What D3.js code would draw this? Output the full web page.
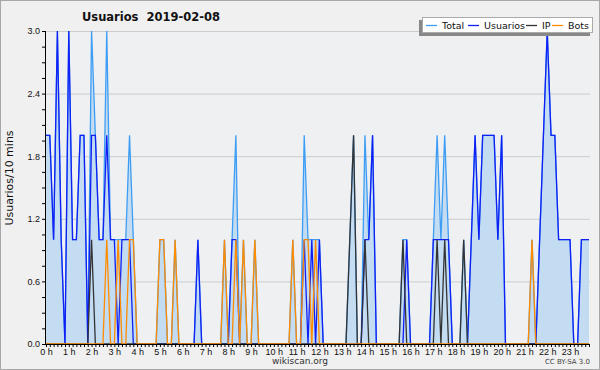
<!DOCTYPE html>
<html>
<head>
<meta charset="utf-8">
<script src="https://cdn.jsdelivr.net/npm/d3@7"></script>
<style>
  html, body { margin: 0; padding: 0; background: #f0f0f0; }
  svg { display: block; font-family: "DejaVu Sans", sans-serif; }
</style>
</head>
<body>
<div id="chart"></div>
<script>
// Usuarios por 10 minutos, 2019-02-08 (144 intervalos, 6 por hora)
const title = 'Usuarios  2019-02-08';
const hourLabels = d3.range(24).map(h => h + ' h');
const yTicks = [0, 0.6, 1.2, 1.8, 2.4, 3.0];

const usuarios = [
  2,2,1,3,1,0, 3,1,1,2,2,0, 2,2,1,1,2,1, 1,0,1,1,1,0,
  0,0,0,0,0,0, 0,0,0,0,0,0, 0,0,0,0,1,0, 0,0,0,0,0,0,
  0,1,1,0,0,0, 0,0,0,0,0,0, 0,0,0,0,0,0, 0,0,1,0,1,0,
  1,0,0,0,0,0, 0,0,0,0,0,0, 1,1,2,0,0,0, 0,0,0,0,0,1,
  0,0,0,0,0,0, 1,1,1,1,1,0, 0,0,0,0,1,2, 1,2,2,2,2,1,
  2,0,0,0,0,0, 0,0,0,0,1,2, 3,2,2,1,1,1, 1,0,0,1,1,1
];
const ip = [
  0,0,0,0,0,0, 0,0,0,0,0,0, 1,0,0,0,0,0, 0,0,0,0,0,0,
  0,0,0,0,0,0, 0,0,0,0,0,0, 0,0,0,0,0,0, 0,0,0,0,0,0,
  0,0,0,0,0,0, 0,0,0,0,0,0, 0,0,0,0,0,0, 0,0,0,0,0,0,
  0,0,0,0,0,0, 0,0,1,2,0,0, 1,0,0,0,0,0, 0,0,0,0,1,0,
  0,0,0,0,0,0, 0,1,0,1,0,0, 0,0,1,0,0,0, 0,0,0,0,0,0,
  0,0,0,0,0,0, 0,0,0,0,0,0, 0,0,0,0,0,0, 0,0,0,0,0,0
];
const bots = [
  0,0,0,0,0,0, 0,0,0,0,0,0, 0,0,0,0,1,0, 0,1,0,0,1,1,
  0,0,0,0,0,0, 1,1,0,0,1,0, 0,0,0,0,0,0, 0,0,0,0,0,1,
  0,0,1,0,1,0, 0,1,0,0,0,0, 0,0,0,0,0,1, 0,0,1,1,0,1,
  0,0,0,0,0,0, 0,0,0,0,0,0, 0,0,0,0,0,0, 0,0,0,0,0,0,
  0,0,0,0,0,0, 0,0,0,0,0,0, 0,0,0,0,0,0, 0,0,0,0,0,0,
  0,0,0,0,0,0, 0,0,1,0,0,0, 0,0,0,0,0,0, 0,0,0,0,0,0
];
const total = [
  2,2,1,3,1,0, 3,1,1,2,2,0, 3,2,1,1,3,1, 1,1,1,1,2,1,
  0,0,0,0,0,0, 1,1,0,0,1,0, 0,0,0,0,1,0, 0,0,0,0,0,1,
  0,1,2,0,1,0, 0,1,0,0,0,0, 0,0,0,0,0,1, 0,0,2,1,1,1,
  1,0,0,0,0,0, 0,0,1,2,0,0, 2,1,2,0,0,0, 0,0,0,0,1,1,
  0,0,0,0,0,0, 1,2,1,2,1,0, 0,0,1,0,1,2, 1,2,2,2,2,1,
  2,0,0,0,0,0, 0,0,1,0,1,2, 3,2,2,1,1,1, 1,0,0,1,1,1
];

const w = 600, h = 370;
const plotLeft = 46, plotRight = 589, plotTop = 31, plotBottom = 344;

const svg = d3.select('#chart').append('svg')
  .attr('width', w)
  .attr('height', h);

// frame
svg.append('rect')
  .attr('x', 0.5).attr('y', 0.5)
  .attr('width', w - 1).attr('height', h - 1)
  .attr('fill', '#f0f0f0')
  .attr('stroke', '#a8a8a8');

svg.append('rect')
  .attr('x', plotLeft).attr('y', plotTop)
  .attr('width', plotRight - plotLeft + 1).attr('height', plotBottom - plotTop)
  .attr('fill', '#eef0f2');

const x = d3.scaleLinear().domain([0, 143]).range([plotLeft, plotRight]);
const y = d3.scaleLinear().domain([0, 3]).range([plotBottom, plotTop]);

// grid
svg.append('g')
  .selectAll('line')
  .data(yTicks.slice(1))
  .enter().append('line')
  .attr('x1', plotLeft).attr('x2', plotRight + 1)
  .attr('y1', d => y(d) + 0.5).attr('y2', d => y(d) + 0.5)
  .attr('stroke', '#cccccc');

// area under total
const area = d3.area()
  .x((d, i) => x(i))
  .y0(y(0))
  .y1(d => y(d));

svg.append('path')
  .datum(total)
  .attr('d', area)
  .attr('fill', '#c4dcf1');

const line = d3.line()
  .x((d, i) => x(i))
  .y(d => y(d));

const series = [
  {name: 'Total', values: total, color: '#3d9df5'},
  {name: 'Usuarios', values: usuarios, color: '#1020f5'},
  {name: 'IP', values: ip, color: '#333333'},
  {name: 'Bots', values: bots, color: '#ff8c00'}
];

series.forEach(s => {
  svg.append('path')
    .datum(s.values)
    .attr('d', line)
    .attr('fill', 'none')
    .attr('stroke', s.color)
    .attr('stroke-width', 1.3);
});

// axes
const xAxis = d3.axisBottom(x)
  .tickValues(d3.range(0, 144))
  .tickSize(3)
  .tickFormat(d => d % 6 === 0 ? hourLabels[d / 6] : '');

const gx = svg.append('g')
  .attr('transform', `translate(0, ${plotBottom})`)
  .call(xAxis);
gx.select('.domain').remove();
gx.selectAll('.tick line').attr('stroke', '#000');
gx.selectAll('text')
  .attr('font-size', '9px')
  .attr('fill', '#111')
  .attr('y', 5);

svg.append('line')
  .attr('x1', plotLeft).attr('x2', plotRight + 1)
  .attr('y1', plotBottom + 0.5).attr('y2', plotBottom + 0.5)
  .attr('stroke', '#000');

const yAxis = d3.axisLeft(y)
  .tickValues(d3.range(0, 21).map(k => k * 0.15))
  .tickSize(4)
  .tickFormat(d => {
    const m = yTicks.find(t => Math.abs(t - d) < 1e-6);
    return m === undefined ? '' : d3.format('.1f')(m);
  });

const gy = svg.append('g')
  .attr('transform', `translate(${plotLeft}, 0)`)
  .call(yAxis);
gy.select('.domain').remove();
gy.selectAll('text')
  .attr('font-size', '9px')
  .attr('fill', '#111')
  .attr('x', -6);

svg.append('line')
  .attr('x1', plotLeft - 0.5).attr('x2', plotLeft - 0.5)
  .attr('y1', plotTop).attr('y2', plotBottom + 1)
  .attr('stroke', '#000');

// labels
svg.append('text')
  .attr('x', 151).attr('y', 21)
  .attr('text-anchor', 'middle')
  .attr('font-size', '11.5px')
  .attr('font-weight', 'bold')
  .attr('fill', '#111')
  .style('white-space', 'pre')
  .text(title);

svg.append('text')
  .attr('transform', 'rotate(-90)')
  .attr('x', -178).attr('y', 13)
  .attr('text-anchor', 'middle')
  .attr('font-size', '11px')
  .attr('fill', '#111')
  .text('Usuarios/10 mins');

svg.append('text')
  .attr('x', 300).attr('y', 364)
  .attr('text-anchor', 'middle')
  .attr('font-size', '9px')
  .attr('fill', '#333')
  .text('wikiscan.org');

svg.append('text')
  .attr('x', 590).attr('y', 364)
  .attr('text-anchor', 'end')
  .attr('font-size', '7px')
  .attr('fill', '#444')
  .text('CC BY-SA 3.0');

// legend
const lg = svg.append('g');
lg.append('rect')
  .attr('x', 419).attr('y', 20)
  .attr('width', 171).attr('height', 16)
  .attr('fill', '#888');
lg.append('rect')
  .attr('x', 422.5).attr('y', 17.5)
  .attr('width', 170).attr('height', 15)
  .attr('fill', '#fff')
  .attr('stroke', '#aaa');

const legendPos = [426, 468, 526, 552];
series.forEach((s, k) => {
  const lx = legendPos[k];
  lg.append('line')
    .attr('x1', lx).attr('x2', lx + 11)
    .attr('y1', 25.5).attr('y2', 25.5)
    .attr('stroke', s.color)
    .attr('stroke-width', 1.3);
  lg.append('text')
    .attr('x', lx + 16).attr('y', 29)
    .attr('font-size', '9.5px')
    .attr('fill', '#111')
    .text(s.name);
});
</script>
</body>
</html>
